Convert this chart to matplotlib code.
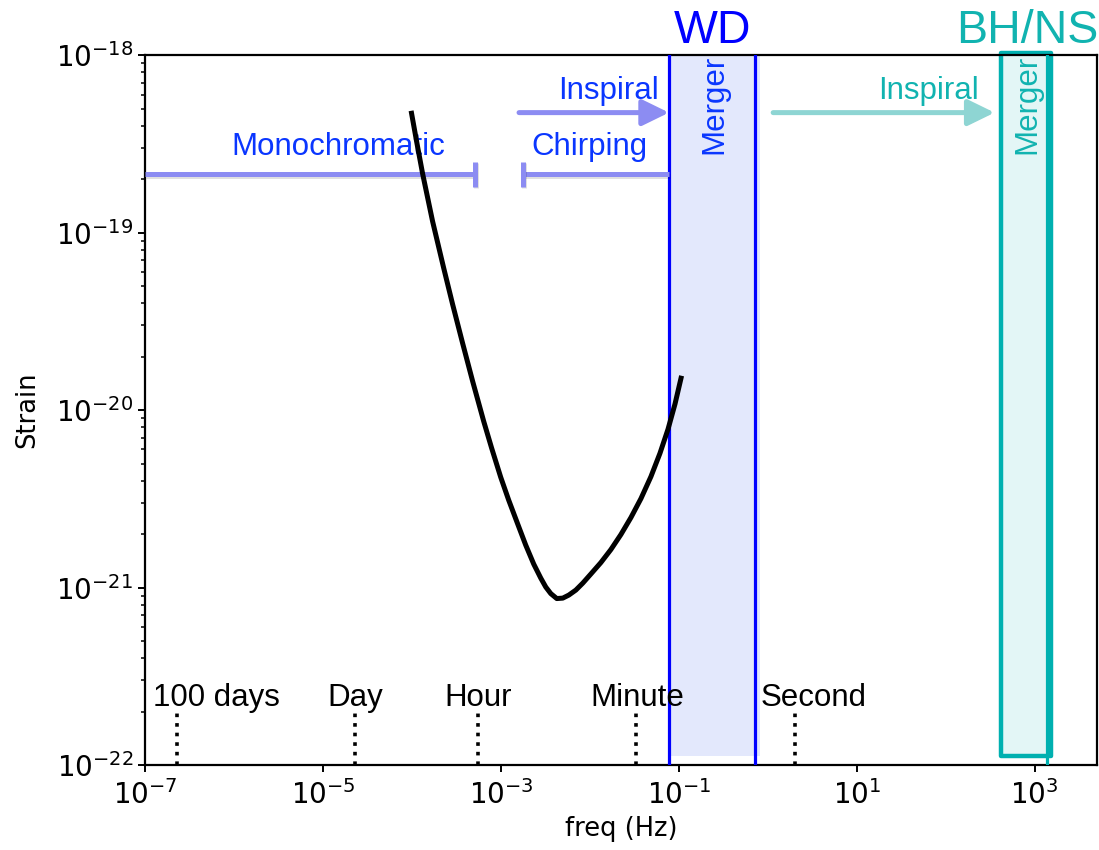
import matplotlib
matplotlib.use("Agg")
import matplotlib.pyplot as plt
import matplotlib.patheffects as pe
from matplotlib.patches import Rectangle
from matplotlib.transforms import blended_transform_factory

# sensitivity curve
CURVE_F = [9.9e-5, 1.127e-4, 1.316e-4, 1.706e-4, 2.27e-4, 2.865e-4, 3.715e-4, 4.81e-4,
           6.40e-4, 7.87e-4, 9.95e-4, 1.224e-3, 1.546e-3, 1.902e-3, 2.34e-3, 2.806e-3,
           3.195e-3, 3.637e-3, 4.25e-3, 4.965e-3, 5.80e-3, 6.96e-3, 8.34e-3, 1.026e-2,
           1.33e-2, 1.723e-2, 2.234e-2, 2.895e-2, 3.75e-2, 4.86e-2, 6.14e-2, 7.56e-2,
           9.06e-2, 0.1059]
CURVE_H = [4.71e-19, 3.28e-19, 2.16e-19, 1.16e-19, 6.35e-20, 3.95e-20, 2.38e-20, 1.456e-20,
           8.67e-21, 6.11e-21, 4.19e-21, 3.11e-21, 2.28e-21, 1.735e-21, 1.356e-21, 1.131e-21,
           1.007e-21, 9.25e-22, 8.67e-22, 8.72e-22, 9.07e-22, 9.68e-22, 1.06e-21, 1.192e-21,
           1.383e-21, 1.637e-21, 1.990e-21, 2.48e-21, 3.17e-21, 4.22e-21, 5.71e-21, 7.80e-21,
           1.082e-20, 1.513e-20]

# time-scale markers (GW frequency for each period)
TIME_LABELS = ["100 days", "Day", "Hour", "Minute", "Second"]
TIME_FREQ = [2.31e-7, 2.31e-5, 5.56e-4, 3.33e-2, 2.0]
TIME_LABEL_X = [6.3e-7, 2.31e-5, 5.56e-4, 3.4e-2, 3.3]
TIME_LINE_TOP = 2.04e-22
TIME_LABEL_Y = 2.15e-22

# WD band
WD_LINES = [0.0776, 0.721]
WD_FILL = (0.0776, 0.82)
WD_FILL_BOTTOM = 1.12e-22
MONO_RANGE = (1e-7, 5.07e-4)
CHIRP_RANGE = (1.76e-3, 0.0776)
BAR_Y = 2.14e-19
CAP_Y = (1.82e-19, 2.51e-19)
WD_INSPIRAL = (1.6e-3, 0.0776)
ARROW_Y = 4.75e-19

# BH/NS band
BH_RECT = (414, 1514)
BH_RECT_Y = (1.12e-22, 1.03e-18)
BH_LINE = 1365
BH_INSPIRAL = (1.15, 355)

C_WD = "#0000ff"
C_WD_TXT = "#0a36ff"
C_WD_LIGHT = "#8c8cf2"
C_WD_FILL = "#e3e8fc"
C_BH = "#00b0b0"
C_BH_TXT = "#11b3b0"
C_BH_LIGHT = "#8ed5d3"
C_BH_FILL = "#e3f6f6"

ANN = ["Liberation Sans", "DejaVu Sans"]

fig = plt.figure(figsize=(10.99, 8.5), dpi=100)
ax = fig.add_axes([0.132, 0.1, 0.866, 0.835])
ax.set_xscale("log")
ax.set_yscale("log")
ax.set_xlim(1e-7, 5e3)
ax.set_ylim(1e-22, 1e-18)

shadow_line = [pe.SimpleLineShadow(offset=(0.8, -1.2), alpha=0.12, shadow_color="k"), pe.Normal()]
shadow_patch = [pe.SimplePatchShadow(offset=(0.8, -1.2), alpha=0.12, shadow_rgbFace="k"), pe.Normal()]

# WD band
ax.fill_between(WD_FILL, WD_FILL_BOTTOM, 1e-18, color=C_WD_FILL, lw=0, zorder=1)
for xv in WD_LINES:
    ax.axvline(xv, color=C_WD, lw=2.3, zorder=3)

# BH/NS band
rect = Rectangle((BH_RECT[0], BH_RECT_Y[0]), BH_RECT[1] - BH_RECT[0], BH_RECT_Y[1] - BH_RECT_Y[0],
                 facecolor=C_BH_FILL, edgecolor=C_BH, lw=3.2, joinstyle="round",
                 clip_on=False, zorder=2)
ax.add_patch(rect)
ax.axvline(BH_LINE, color=C_BH, lw=2.3, zorder=3)

# monochromatic / chirping bars
ax.plot(MONO_RANGE, [BAR_Y, BAR_Y], color=C_WD_LIGHT, lw=3.6, solid_capstyle="butt",
        path_effects=shadow_line, zorder=4)
ax.plot(CHIRP_RANGE, [BAR_Y, BAR_Y], color=C_WD_LIGHT, lw=3.6, solid_capstyle="butt",
        path_effects=shadow_line, zorder=4)
ax.vlines([MONO_RANGE[1], CHIRP_RANGE[0]], CAP_Y[0], CAP_Y[1], color=C_WD_LIGHT, lw=3.6,
          path_effects=shadow_line, zorder=4)

# inspiral arrows
for (x0, x1), col in ((WD_INSPIRAL, C_WD_LIGHT), (BH_INSPIRAL, C_BH_LIGHT)):
    arr = ax.annotate("", xy=(x1, ARROW_Y), xytext=(x0, ARROW_Y),
                      arrowprops=dict(arrowstyle="-|>,head_length=0.45,head_width=0.22",
                                      mutation_scale=36, lw=3.6, color=col,
                                      shrinkA=0, shrinkB=0), zorder=4)
    arr.arrow_patch.set_path_effects(shadow_patch)

# sensitivity curve
ax.plot(CURVE_F, CURVE_H, color="black", lw=3.6, solid_joinstyle="round", zorder=5)

# time markers
for lab, f, fx in zip(TIME_LABELS, TIME_FREQ, TIME_LABEL_X):
    ax.plot([f, f], [1e-22, TIME_LINE_TOP], color="black", ls=":", lw=2.6, zorder=4)
    ax.text(fx, TIME_LABEL_Y, lab, ha="center", va="baseline", fontsize=22.5,
            family=ANN, color="black", zorder=6)

# labels
ax.text(1.47e-5, 2.73e-19, "Monochromatic", ha="center", va="baseline", fontsize=22.5,
        family=ANN, color=C_WD_TXT)
ax.text(9.9e-3, 2.73e-19, "Chirping", ha="center", va="baseline", fontsize=22.5,
        family=ANN, color=C_WD_TXT)
ax.text(1.61e-2, 5.7e-19, "Inspiral", ha="center", va="baseline", fontsize=22.5,
        family=ANN, color=C_WD_TXT)
ax.text(64.9, 5.7e-19, "Inspiral", ha="center", va="baseline", fontsize=22.5,
        family=ANN, color=C_BH_TXT)
ax.text(0.249, 2.77e-19, "Merger", rotation=90, ha="center", va="bottom", fontsize=22.5,
        family=ANN, color=C_WD_TXT, clip_on=True, zorder=6)
ax.text(834, 2.77e-19, "Merger", rotation=90, ha="center", va="bottom", fontsize=22.5,
        family=ANN, color=C_BH_TXT, clip_on=True, zorder=6)

trans = blended_transform_factory(ax.transData, ax.transAxes)
ax.text(0.237, 1.017, "WD", transform=trans, ha="center", va="baseline", fontsize=33.5,
        family=ANN, color=C_WD)
ax.text(834, 1.017, "BH/NS", transform=trans, ha="center", va="baseline", fontsize=33.5,
        family=ANN, color=C_BH_TXT)

ax.set_xticks([1e-7, 1e-5, 1e-3, 1e-1, 1e1, 1e3])
ax.xaxis.set_minor_locator(matplotlib.ticker.NullLocator())
ax.tick_params(which="major", labelsize=20, length=5, width=1.4)
ax.tick_params(axis="x", pad=6)
ax.tick_params(which="minor", length=3, width=1.1)
for sp in ax.spines.values():
    sp.set_linewidth(1.6)
ax.set_xlabel("freq (Hz)", fontsize=18.5)
ax.set_ylabel("Strain", fontsize=18.5, labelpad=11)

fig.savefig("out.png", dpi=100)
